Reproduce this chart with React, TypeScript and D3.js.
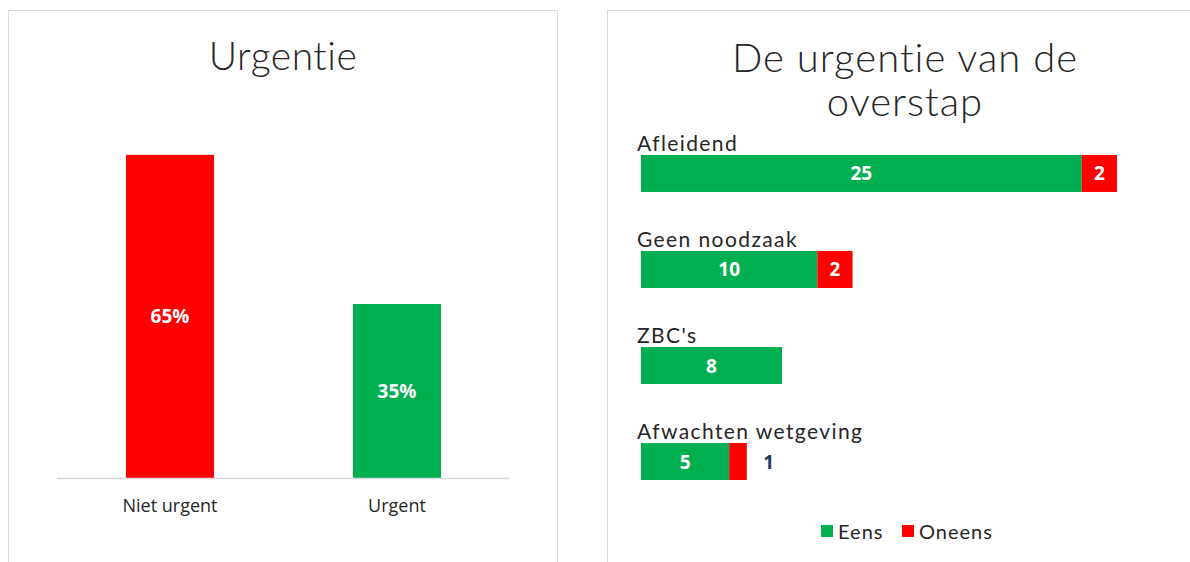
import React from 'react';
import * as d3 from 'd3';

// left chart: share urgent / not urgent
const urgencyCategories = ['Niet urgent', 'Urgent'];
const urgencyValues = [0.65, 0.35];
const urgencyColors = ['#ff0000', '#00b050'];

// right chart: reasons, stacked Eens / Oneens
const reasonCategories = ['Afleidend', 'Geen noodzaak', "ZBC's", 'Afwachten wetgeving'];
const eensValues = [25, 10, 8, 5];
const oneensValues = [2, 2, 0, 1];
const seriesNames = ['Eens', 'Oneens'];
const seriesColors = ['#00b050', '#ff0000'];

const titleFont = 'Lato, "Open Sans", sans-serif';
const labelFont = '"Open Sans", "Noto Sans", sans-serif';

export default function App() {
  const W = 1190;
  const H = 562;

  // left panel scales
  const xLeft = d3
    .scaleBand<string>()
    .domain(urgencyCategories)
    .range([57, 510])
    .paddingInner(0.612)
    .paddingOuter(0.304);
  const yLeft = d3.scaleLinear().domain([0, 0.7]).range([478, 130]);
  const pct = d3.format('.0%');

  // right panel scales
  const xRight = d3.scaleLinear().domain([0, 27]).range([641, 1117]);
  const yRight = d3
    .scaleBand<string>()
    .domain(reasonCategories)
    .range([155, 480])
    .paddingInner(0.615)
    .paddingOuter(0);

  return (
    <svg width={W} height={H} style={{ position: 'absolute', left: 0, top: 0 }}>
      <rect x={0} y={0} width={W} height={H} fill="#fff" />

      {/* left panel */}
      <rect x={8.5} y={10.5} width={549} height={560} fill="#fff" stroke="#d9d9d9" />
      <text
        x={283}
        y={70}
        textAnchor="middle"
        fontFamily={titleFont}
        fontWeight={300}
        fontSize={39}
        letterSpacing={0.5}
        fill="#262626"
      >
        Urgentie
      </text>
      {urgencyCategories.map((c, i) => {
        const x = xLeft(c) as number;
        const y = yLeft(urgencyValues[i]);
        return (
          <g key={c}>
            <rect x={x} y={y} width={xLeft.bandwidth()} height={yLeft(0) - y} fill={urgencyColors[i]} />
            <text
              x={x + xLeft.bandwidth() / 2}
              y={(y + yLeft(0)) / 2 + 7}
              textAnchor="middle"
              fontFamily={labelFont}
              fontWeight="bold"
              fontSize={19}
              fill="#fff"
            >
              {pct(urgencyValues[i])}
            </text>
            <text
              x={x + xLeft.bandwidth() / 2}
              y={512}
              textAnchor="middle"
              fontFamily={labelFont}
              fontSize={18}
              fill="#262626"
            >
              {c}
            </text>
          </g>
        );
      })}
      <line x1={57} x2={510} y1={478.5} y2={478.5} stroke="#d9d9d9" strokeWidth={1.5} />

      {/* right panel */}
      <rect x={607.5} y={10.5} width={600} height={560} fill="#fff" stroke="#d9d9d9" />
      <text
        textAnchor="middle"
        fontFamily={titleFont}
        fontWeight={300}
        fontSize={40}
        letterSpacing={1}
        fill="#262626"
      >
        <tspan x={905} y={72}>De urgentie van de</tspan>
        <tspan x={905} y={116}>overstap</tspan>
      </text>
      {reasonCategories.map((c, i) => {
        const y = yRight(c) as number;
        const bh = yRight.bandwidth();
        const x0 = xRight(0);
        const x1 = xRight(eensValues[i]);
        const x2 = xRight(eensValues[i] + oneensValues[i]);
        const small = x2 - x1 < 24;
        return (
          <g key={c}>
            <text x={637} y={y - 4} fontFamily={titleFont} fontSize={21} letterSpacing={1.4} fill="#262626">
              {c}
            </text>
            <rect x={x0} y={y} width={x1 - x0} height={bh} fill={seriesColors[0]} />
            <text
              x={(x0 + x1) / 2}
              y={y + bh / 2 + 7}
              textAnchor="middle"
              fontFamily={labelFont}
              fontWeight="bold"
              fontSize={19}
              fill="#fff"
            >
              {eensValues[i]}
            </text>
            {oneensValues[i] > 0 && (
              <>
                <rect x={x1} y={y} width={x2 - x1} height={bh} fill={seriesColors[1]} />
                <text
                  x={small ? x2 + 22 : (x1 + x2) / 2}
                  y={y + bh / 2 + 7}
                  textAnchor="middle"
                  fontFamily={labelFont}
                  fontWeight="bold"
                  fontSize={19}
                  fill={small ? '#1f3864' : '#fff'}
                >
                  {oneensValues[i]}
                </text>
              </>
            )}
          </g>
        );
      })}

      {/* legend */}
      {seriesNames.map((s, i) => {
        const lx = i === 0 ? 821 : 902;
        return (
          <g key={s}>
            <rect x={lx} y={525} width={12} height={12} fill={seriesColors[i]} />
            <text x={lx + 17} y={539} fontFamily={titleFont} fontSize={20} letterSpacing={1} fill="#262626">
              {s}
            </text>
          </g>
        );
      })}
    </svg>
  );
}
